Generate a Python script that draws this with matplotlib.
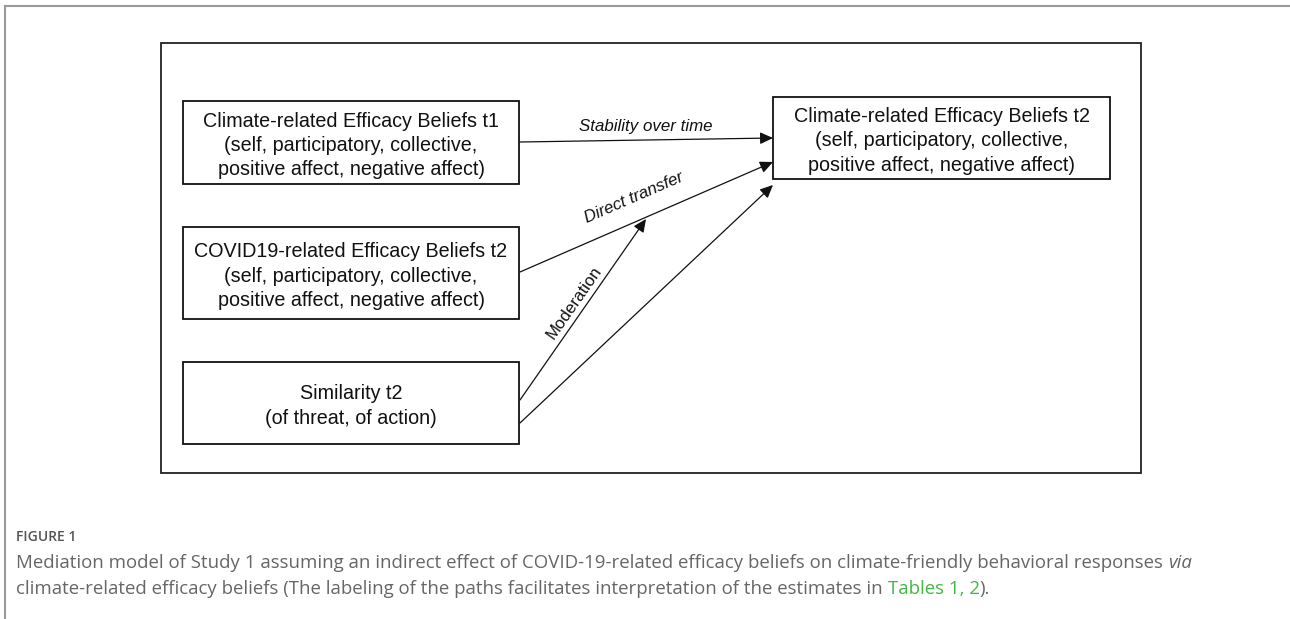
import math
import matplotlib
matplotlib.use("Agg")
import matplotlib.pyplot as plt
from matplotlib.patches import Rectangle, FancyArrowPatch

# Figure laid out in pixel coordinates (x right, y down)
W, H = 1290, 619

frame = (161, 43, 1141, 473)  # x0, y0, x1, y1

box_xy = [(183, 101, 519, 184), (183, 227, 519, 319), (183, 362, 519, 444), (773, 97, 1110, 179)]
box_text = [
    "Climate-related Efficacy Beliefs t1\n(self, participatory, collective,\npositive affect, negative affect)",
    "COVID19-related Efficacy Beliefs t2\n(self, participatory, collective,\npositive affect, negative affect)",
    "Similarity t2\n(of threat, of action)",
    "Climate-related Efficacy Beliefs t2\n(self, participatory, collective,\npositive affect, negative affect)",
]

# paths: start point, end point
path_start = [(520, 142), (520, 272), (520, 400), (520, 423)]
path_end = [(773, 138), (773, 162), (646, 219), (773, 185)]
path_label = ["Stability over time", "Direct transfer", "Moderation", ""]
label_italic = [True, True, False, False]
label_pos = [(646, 126), (634, 198), (574, 303), (0, 0)]

caption_head = "FIGURE 1"
caption_line1 = [("Mediation model of Study 1 assuming an indirect effect of COVID-19-related efficacy beliefs on climate-friendly behavioral responses ", "normal", "#666666"),
                 ("via", "italic", "#666666")]
caption_line2 = [("climate-related efficacy beliefs (The labeling of the paths facilitates interpretation of the estimates in ", "normal", "#666666"),
                 ("Tables 1, 2", "normal", "#45b545"),
                 (").", "normal", "#666666")]

fig = plt.figure(figsize=(W / 100, H / 100), dpi=100)
ax = fig.add_axes([0, 0, 1, 1])
ax.set_xlim(0, W)
ax.set_ylim(H, 0)
ax.axis("off")

# page border lines
ax.plot([5, W], [6, 6], color="#9a9a9a", lw=1.5)
ax.plot([5, 5], [6, H], color="#9a9a9a", lw=1.5)

# outer frame of the diagram
ax.add_patch(Rectangle((frame[0], frame[1]), frame[2] - frame[0], frame[3] - frame[1],
                       fill=False, ec="#222222", lw=1.3))

diag_font = "Liberation Sans"
for (x0, y0, x1, y1), txt in zip(box_xy, box_text):
    ax.add_patch(Rectangle((x0, y0), x1 - x0, y1 - y0, fill=False, ec="#111111", lw=1.3))
    ax.text((x0 + x1) / 2, (y0 + y1) / 2 + 3, txt, ha="center", va="center",
            fontsize=14.2, family=diag_font, linespacing=1.36, color="#111111")

for (sx, sy), (ex, ey) in zip(path_start, path_end):
    ax.add_patch(FancyArrowPatch((sx, sy), (ex, ey), arrowstyle="-|>,head_length=0.65,head_width=0.3",
                                 mutation_scale=12, lw=0.9, color="#111111",
                                 shrinkA=0, shrinkB=0))

for lbl, it, (lx, ly), (sx, sy), (ex, ey) in zip(path_label, label_italic, label_pos, path_start, path_end):
    if not lbl:
        continue
    ang = math.degrees(math.atan2(sy - ey, ex - sx))
    if abs(ang) < 3:
        ang = 0
    ax.text(lx, ly, lbl, ha="center", va="center", rotation=ang, rotation_mode="anchor",
            fontsize=12.2, family=diag_font, style="italic" if it else "normal",
            color="#111111")

# caption
cap_font = "Open Sans"
ax.text(16, 537, caption_head, fontsize=10, family=cap_font, color="#555555",
        weight="semibold", va="center")

fig.canvas.draw()
renderer = fig.canvas.get_renderer()
inv = ax.transData.inverted()


def draw_segments(segs, x, y):
    for txt, style, col in segs:
        t = ax.text(x, y, txt, fontsize=13.4, family=cap_font, style=style, color=col, va="center")
        bb = t.get_window_extent(renderer=renderer)
        x = inv.transform((bb.x1, bb.y0))[0]


draw_segments(caption_line1, 16, 563)
draw_segments(caption_line2, 16, 589)

fig.savefig("out.png", dpi=100)
